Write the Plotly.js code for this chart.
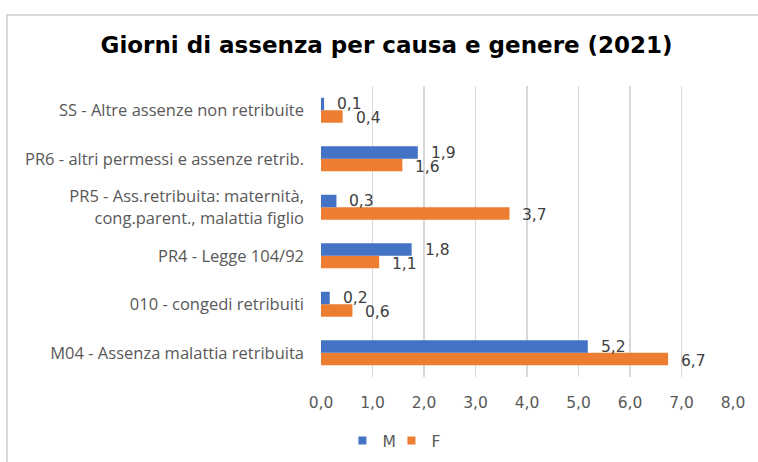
<!DOCTYPE html>
<html>
<head>
<meta charset="utf-8">
<script src="https://cdn.plot.ly/plotly-3.0.1.min.js"></script>
<style>
  html, body { margin: 0; padding: 0; background: #ffffff; }
  #wrap { position: relative; width: 758px; height: 462px; overflow: hidden; }
  #frame { position: absolute; left: 6px; top: 14px; width: 800px; height: 500px;
           border-top: 2px solid #d9d9d9; border-left: 2px solid #d9d9d9; pointer-events: none; }
  #chart { position: absolute; left: 0; top: 0; width: 758px; height: 462px; }
</style>
</head>
<body>
<div id="wrap">
  <div id="chart"></div>
  <div id="frame"></div>
</div>
<script>
// Categories listed bottom to top
const categories = [
  "M04 - Assenza malattia retribuita",
  "010 - congedi retribuiti",
  "PR4 - Legge 104/92",
  "PR5 - Ass.retribuita: maternità,<br>cong.parent., malattia figlio",
  "PR6 - altri permessi e assenze retrib.",
  "SS - Altre assenze non retribuite"
];
const valuesM = [5.18, 0.17, 1.76, 0.30, 1.88, 0.06];
const valuesF = [6.74, 0.61, 1.13, 3.66, 1.58, 0.42];
const tickVals = [0, 1, 2, 3, 4, 5, 6, 7, 8];
const seriesNames = ["M", "F"];

const blue = "#4472C4";
const orange = "#ED7D31";

function fmt(v) { return v.toFixed(1).replace(".", ","); }

const traces = [
  { type: "bar", orientation: "h", name: "F", x: valuesF, y: categories,
    marker: { color: orange }, showlegend: false, hoverinfo: "x" },
  { type: "bar", orientation: "h", name: "M", x: valuesM, y: categories,
    marker: { color: blue }, showlegend: false, hoverinfo: "x" },
  // legend entries (small square keys as in the original)
  { type: "scatter", mode: "markers", name: seriesNames[0], x: [null], y: [null],
    marker: { symbol: "square", size: 8, color: blue }, showlegend: true },
  { type: "scatter", mode: "markers", name: seriesNames[1], x: [null], y: [null],
    marker: { symbol: "square", size: 8, color: orange }, showlegend: true }
];

const labelFont = { family: "DejaVu Sans", size: 15.5, color: "#404040" };
const annotations = [];
categories.forEach((c, i) => {
  annotations.push({ x: valuesM[i], y: c, xref: "x", yref: "y", text: fmt(valuesM[i]),
    showarrow: false, xanchor: "left", yanchor: "middle", xshift: 11, yshift: 6,
    font: labelFont });
  annotations.push({ x: valuesF[i], y: c, xref: "x", yref: "y", text: fmt(valuesF[i]),
    showarrow: false, xanchor: "left", yanchor: "middle", xshift: 11, yshift: -8,
    font: labelFont });
});

const layout = {
  width: 758, height: 462,
  margin: { l: 321, r: 25, t: 86, b: 85, pad: 0, autoexpand: false },
  paper_bgcolor: "rgba(0,0,0,0)", plot_bgcolor: "rgba(0,0,0,0)",
  separators: ",.",
  title: { text: "<b>Giorni di assenza per causa e genere (2021)</b>",
    font: { family: "DejaVu Sans", size: 23, color: "#000000" },
    x: 0.51, xanchor: "center", y: 0.902, yanchor: "middle" },
  barmode: "group", bargap: 0.485, bargroupgap: 0,
  xaxis: { range: [0, 8], tickvals: tickVals, tickformat: ".1f",
    showgrid: true, gridcolor: "#d9d9d9", gridwidth: 1.5, zeroline: false,
    showline: false, ticks: "", ticklabelstandoff: 14, automargin: false,
    tickfont: { family: "DejaVu Sans", size: 15.5, color: "#595959" } },
  yaxis: { type: "category", showgrid: false, zeroline: false, showline: false,
    ticks: "", ticklabelstandoff: 16, automargin: false,
    tickfont: { family: "Open Sans", size: 16.5, color: "#595959" } },
  legend: { orientation: "h", x: 0.052, xanchor: "left", y: -0.22, yanchor: "middle",
    font: { family: "DejaVu Sans", size: 15.5, color: "#595959" },
    itemwidth: 30, entrywidth: 4, tracegroupgap: 0 },
  showlegend: true,
  annotations: annotations
};

Plotly.newPlot("chart", traces, layout, { displayModeBar: false, staticPlot: true });
</script>
</body>
</html>
